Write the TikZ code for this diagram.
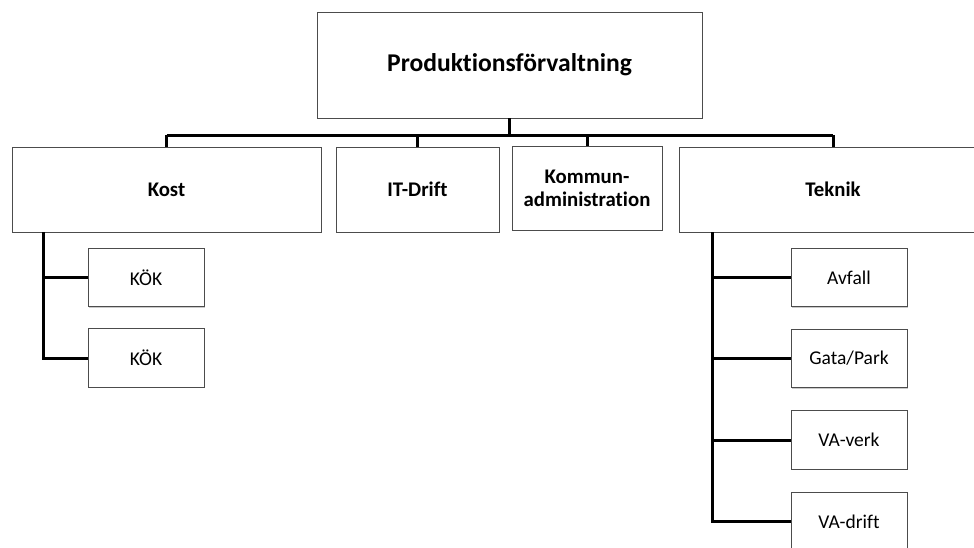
\documentclass[tikz,border=0pt]{standalone}
\usepackage{fontspec}
\setmainfont[Ligatures=NoCommon]{Carlito}
\usetikzlibrary{shadows}
\def\linew{3pt}
\tikzset{box/.style={draw=black!70, line width=0.9pt, fill=white, inner sep=2pt, align=center,
    drop shadow={shadow xshift=1.2pt, shadow yshift=-1.2pt, opacity=0.35, fill=black!60}}}
\tikzset{head/.style={box, minimum width=385pt, minimum height=106pt, font=\bfseries\fontsize{25.6}{28}\selectfont}}
\tikzset{unit/.style={box, minimum height=85pt, font=\bfseries\fontsize{20.8}{23}\selectfont}}
\tikzset{sub/.style={box, minimum width=116pt, minimum height=58.5pt, font=\fontsize{19.5}{22}\selectfont}}
\tikzset{conn/.style={line width=\linew, black}}

\begin{document}
\begin{tikzpicture}[x=1pt, y=-1pt]
              \useasboundingbox (0,0) rectangle (974,547);
              \clip (0,0) rectangle (974,547);
              % Top level
              \node[head] (prod) at (509.5,65) {Produktionsförvaltning};
              % Departments
              \node[unit, minimum width=309pt] (kost) at (166.5,189.5) {Kost};
              \node[unit, minimum width=163pt] (itdrift) at (417.5,189.5) {IT-Drift};
              \node[unit, minimum width=150pt, minimum height=84pt] (kommun) at (587,188) {Kommun-\\administration};
              \node[unit, minimum width=308pt] (teknik) at (833,189.5) {Teknik};
              % Units below Kost
              \node[sub] (kok1) at (146,277.5) {KÖK};
              \node[sub] (kok2) at (146,358) {KÖK};
              % Units below Teknik
              \node[sub] (avfall) at (849,277.5) {Avfall};
              \node[sub] (gata) at (849,358.5) {Gata/Park};
              \node[sub] (vaverk) at (849,440) {VA-verk};
              \node[sub] (vadrift) at (849,521.5) {VA-drift};
              % Bus under the top box
              \coordinate (bus) at (509.5,135);
              \draw[conn] (prod.south) -- (bus);
              \draw[conn] (kost.north |- bus) -- (teknik.north |- bus);
              \foreach \dep in {kost, itdrift, kommun, teknik} {
                \draw[conn] (\dep.north |- bus) -- (\dep.north);
              }
              % Side branches
              \coordinate (kostspine) at (43,232);
              \coordinate (teknikspine) at (712,232);
              \draw[conn] (kostspine) |- (kok2.west);
              \draw[conn] (kostspine |- kok1.west) -- (kok1.west);
              \draw[conn] (teknikspine) |- (vadrift.west);
              \foreach \u in {avfall, gata, vaverk} {
                \draw[conn] (teknikspine |- \u.west) -- (\u.west);
              }
            \end{tikzpicture}
\end{document}
